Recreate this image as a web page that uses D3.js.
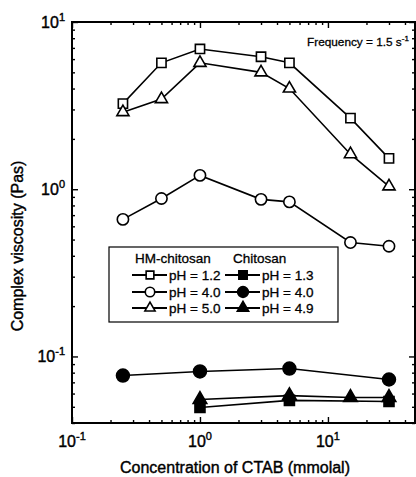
<!DOCTYPE html>
<html>
<head>
<meta charset="utf-8">
<script src="https://cdn.jsdelivr.net/npm/d3@7"></script>
<style>
body { margin: 0; background: #fff; }
text { font-family: "Liberation Sans", Arial, sans-serif; fill: #000; }
</style>
</head>
<body>
<script>
// HM-chitosan series (open symbols)
var conc_hm = [0.25, 0.5, 1, 3, 5, 15, 30]
var hm_ph12 = [3.25, 5.7, 6.9, 6.2, 5.7, 2.66, 1.53]
var hm_ph40 = [0.66, 0.88, 1.21, 0.87, 0.84, 0.48, 0.456]
var hm_ph50 = [2.89, 3.46, 5.7, 5.0, 4.0, 1.62, 1.04]

// Chitosan series (filled symbols)
var conc_chi13 = [1, 5, 30]
var chi_ph13 = [0.0495, 0.0546, 0.0538]
var conc_chi40 = [0.25, 1, 5, 30]
var chi_ph40 = [0.0769, 0.0813, 0.0847, 0.0728]
var conc_chi49 = [1, 5, 15, 30]
var chi_ph49 = [0.0553, 0.0583, 0.0568, 0.0568]

var legend_hm = ['pH = 1.2', 'pH = 4.0', 'pH = 5.0']
var legend_chi = ['pH = 1.3', 'pH = 4.0', 'pH = 4.9']
var x_decades = [-1, 0, 1]
var y_decades = [-1, 0, 1]

var width = 416, height = 477
var plot = {left: 72, top: 22, right: 415, bottom: 423}

var svg = d3.select('body').append('svg')
	.attr('width', width).attr('height', height)

var x = d3.scaleLog().domain([0.1, 47.9]).range([plot.left, plot.right])
var y = d3.scaleLog().domain([0.04, 10]).range([plot.bottom, plot.top])

// tick positions: majors at decades, minors 2..9
function logTicks(lo, hi) {
	var major = [], minor = []
	for (var e = -2; e <= 2; e++) {
		for (var m = 1; m <= 9; m++) {
			var v = m * Math.pow(10, e)
			if (v < lo * 0.999 || v > hi * 1.001) continue
			if (m == 1) major.push(v); else minor.push(v)
		}
	}
	return {major: major, minor: minor}
}
var xt = logTicks(0.1, 47.9)
var yt = logTicks(0.04, 10)

var axes = svg.append('g')
function drawAxis(axisFn, scale, ticks, transform) {
	axes.append('g').attr('transform', transform)
		.call(axisFn(scale).tickValues(ticks.major).tickSize(-6).tickFormat(''))
		.call(function(g) { g.select('.domain').remove() })
	axes.append('g').attr('transform', transform)
		.call(axisFn(scale).tickValues(ticks.minor).tickSize(-3).tickFormat(''))
		.call(function(g) { g.select('.domain').remove() })
}
drawAxis(d3.axisBottom, x, xt, `translate(0,${plot.bottom})`)
drawAxis(d3.axisTop, x, xt, `translate(0,${plot.top})`)
drawAxis(d3.axisLeft, y, yt, `translate(${plot.left},0)`)
drawAxis(d3.axisRight, y, yt, `translate(${plot.right},0)`)
axes.selectAll('line').attr('stroke', '#000').attr('stroke-width', 1.4)

svg.append('rect')
	.attr('x', plot.left).attr('y', plot.top)
	.attr('width', plot.right - plot.left).attr('height', plot.bottom - plot.top)
	.attr('fill', 'none').attr('stroke', '#000').attr('stroke-width', 2)

// tick labels as 10^n
x_decades.forEach(function(e) {
	var t = svg.append('text')
		.attr('x', x(Math.pow(10, e))).attr('y', 447)
		.attr('text-anchor', 'middle')
		.attr('font-size', 16).attr('stroke', '#000').attr('stroke-width', 0.4)
	t.append('tspan').text('10')
	t.append('tspan').text(e).attr('font-size', 11).attr('dy', -7)
})
y_decades.forEach(function(e) {
	var t = svg.append('text')
		.attr('x', 65).attr('y', y(Math.pow(10, e)) + 6)
		.attr('text-anchor', 'end')
		.attr('font-size', 16).attr('stroke', '#000').attr('stroke-width', 0.4)
	t.append('tspan').text('10')
	t.append('tspan').text(e).attr('font-size', 11).attr('dy', -7)
})

// axis titles
svg.append('text')
	.text('Concentration of CTAB (mmolal)')
	.attr('x', 235).attr('y', 473)
	.attr('text-anchor', 'middle')
	.attr('font-size', 16).attr('stroke', '#000').attr('stroke-width', 0.4)
svg.append('text')
	.text('Complex viscosity (Pas)')
	.attr('transform', 'translate(23,246) rotate(-90)')
	.attr('text-anchor', 'middle')
	.attr('font-size', 16).attr('stroke', '#000').attr('stroke-width', 0.4)

var freq = svg.append('text')
	.attr('x', 307).attr('y', 46)
	.attr('font-size', 11.8).attr('stroke', '#000').attr('stroke-width', 0.3)
freq.append('tspan').text('Frequency = 1.5 s')
freq.append('tspan').text('-1').attr('font-size', 8).attr('dy', -5)

// series
var series = [
	{xs: conc_hm, ys: hm_ph12, sym: d3.symbolSquare, size: 85, filled: false},
	{xs: conc_hm, ys: hm_ph40, sym: d3.symbolCircle, size: 100, filled: false},
	{xs: conc_hm, ys: hm_ph50, sym: d3.symbolTriangle, size: 64, filled: false},
	{xs: conc_chi13, ys: chi_ph13, sym: d3.symbolSquare, size: 100, filled: true},
	{xs: conc_chi40, ys: chi_ph40, sym: d3.symbolCircle, size: 130, filled: true},
	{xs: conc_chi49, ys: chi_ph49, sym: d3.symbolTriangle, size: 80, filled: true}
]

var line = d3.line().x(function(d) { return x(d.x) }).y(function(d) { return y(d.y) })
var plot_g = svg.append('g')
series.forEach(function(s) {
	var pts = s.xs.map(function(v, i) { return {x: v, y: s.ys[i]} })
	plot_g.append('path').datum(pts)
		.attr('d', line)
		.attr('fill', 'none').attr('stroke', '#000').attr('stroke-width', 1.6)
	plot_g.selectAll(null).data(pts).enter().append('path')
		.attr('d', d3.symbol().type(s.sym).size(s.size))
		.attr('transform', function(d) { return `translate(${x(d.x)},${y(d.y)})` })
		.attr('fill', s.filled ? '#000' : '#fff')
		.attr('stroke', '#000').attr('stroke-width', 1.6)
})

// legend
var legend = svg.append('g')
legend.append('rect')
	.attr('x', 109).attr('y', 247).attr('width', 229).attr('height', 75)
	.attr('fill', '#fff').attr('stroke', '#000').attr('stroke-width', 1.2)
legend.append('text').text('HM-chitosan').attr('x', 135).attr('y', 263)
	.attr('font-size', 13.5).attr('stroke', '#000').attr('stroke-width', 0.3)
legend.append('text').text('Chitosan').attr('x', 233).attr('y', 263)
	.attr('font-size', 13.5).attr('stroke', '#000').attr('stroke-width', 0.3)

var rows_y = [275, 292, 308]
function legendColumn(labels, list, x0) {
	labels.forEach(function(lab, i) {
		var s = list[i], ry = rows_y[i]
		legend.append('line')
			.attr('x1', x0).attr('x2', x0 + 35).attr('y1', ry).attr('y2', ry)
			.attr('stroke', '#000').attr('stroke-width', 1.8)
		legend.append('path')
			.attr('d', d3.symbol().type(s.sym).size(s.size * 0.7))
			.attr('transform', `translate(${x0 + 18},${ry})`)
			.attr('fill', s.filled ? '#000' : '#fff')
			.attr('stroke', '#000').attr('stroke-width', 1.6)
		legend.append('text').text(lab)
			.attr('x', x0 + 37).attr('y', ry + 5)
			.attr('font-size', 13.5).attr('stroke', '#000').attr('stroke-width', 0.3)
	})
}
legendColumn(legend_hm, series.slice(0, 3), 132)
legendColumn(legend_chi, series.slice(3, 6), 225)
</script>
</body>
</html>
